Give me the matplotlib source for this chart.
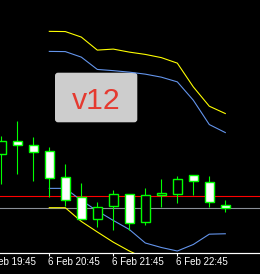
import matplotlib.pyplot as plt
from matplotlib.patches import Rectangle, FancyBboxPatch

# 15 min bars, index 0 = 6 Feb 20:00
opens = [120.7, 133.0, 129.0, 123.0, 97.0, 77.0, 55.3, 68.0, 80.0, 52.7, 79.3, 80.3, 99.0, 92.0, 69.0]
highs = [138.0, 153.0, 137.0, 127.0, 110.3, 91.3, 72.0, 84.0, 80.0, 86.0, 95.0, 98.0, 99.0, 98.0, 74.3]
lows = [90.0, 100.7, 93.3, 77.3, 68.3, 55.3, 47.3, 44.3, 44.0, 49.3, 67.0, 71.3, 79.7, 67.0, 62.3]
closes = [133.0, 129.7, 122.3, 96.3, 74.7, 55.3, 67.7, 80.0, 51.5, 79.7, 81.7, 95.0, 93.3, 72.7, 66.7]

# band lines, bars 3..14
band_x = [3, 4, 5, 6, 7, 8, 9, 10, 11, 12, 13, 14]
upper_outer = [242.7, 242.5, 237.0, 224.0, 225.0, 222.0, 219.7, 216.5, 211.0, 187.3, 168.0, 160.7]
upper_inner = [222.7, 222.5, 217.0, 204.7, 203.5, 202.0, 200.0, 197.0, 192.3, 174.0, 149.7, 141.7]
lower_inner = [86.0, 86.0, 74.0, 63.5, 54.0, 45.0, 31.5, 27.0, 23.5, 30.0, 40.3, 40.7]
lower_outer = [66.7, 66.7, 53.0, 42.5, 32.3, 23.5, 16.0, 11.0, 7.0, 12.0, 20.0, 21.0]

red_level = 78.7
gray_level = 66.7

tick_pos = [-1, 3, 7, 11]
tick_labels = ["6 Feb 19:45", "6 Feb 20:45", "6 Feb 21:45", "6 Feb 22:45"]

W, H = 260, 274
px = 0.72  # one pixel in points at dpi 100

fig = plt.figure(figsize=(W / 100, H / 100), dpi=100, facecolor="black")

# background layer for the label box (pixel coordinates)
bg = fig.add_axes([0, 0, 1, 1], zorder=0)
bg.set_xlim(0, W)
bg.set_ylim(H, 0)
bg.axis("off")
bg.add_patch(FancyBboxPatch((55, 72.7), 82.3, 49.6, boxstyle="round,pad=0,rounding_size=3",
                            facecolor="#cdcdcd", edgecolor="none"))
bg.text(96, 109, "v12", color="#e53a30", fontsize=21.8, family="Liberation Sans",
        ha="center", va="baseline")

# main chart
ax = fig.add_axes([0, 21.5 / H, 1, 252.5 / H], zorder=1)
ax.set_facecolor("none")

ax.axhline(red_level, color="#ff0000", lw=1.1 * px, zorder=1)
ax.axhline(gray_level, color="#8a8f98", lw=1.1 * px, zorder=1)

ax.plot(band_x, upper_outer, color="#ffff00", lw=1.1 * px, zorder=2)
ax.plot(band_x, lower_outer, color="#ffff00", lw=1.1 * px, zorder=2)
ax.plot(band_x, upper_inner, color="#6495ed", lw=1.1 * px, zorder=2)
ax.plot(band_x, lower_inner, color="#6495ed", lw=1.1 * px, zorder=2)

for i in range(len(opens)):
    o, h, l, c = opens[i], highs[i], lows[i], closes[i]
    ax.vlines(i, l, h, color="#00ff00", lw=1.1 * px, zorder=3)
    fill = "white" if c < o else "black"
    ax.add_patch(Rectangle((i - 0.29, min(o, c)), 0.58, abs(c - o), facecolor=fill,
                           edgecolor="#00ff00", lw=1.4 * px, zorder=4))

for s in ["top", "left", "right"]:
    ax.spines[s].set_visible(False)
ax.spines["bottom"].set_color("white")
ax.spines["bottom"].set_linewidth(1.2 * px)
ax.set_yticks([])
ax.set_xticks(tick_pos)
ax.set_xticklabels([])
ax.tick_params(axis="x", colors="white", length=3 * px, width=1.1 * px, direction="out")
ax.set_xlim(-1.3 / 16, (W - 1.3) / 16)
ax.set_ylim(22, 274)

for p, lab in zip(tick_pos, tick_labels):
    ax.annotate(lab, xy=(p, 0), xycoords=("data", "axes fraction"), xytext=(-1.5, -4.5),
                textcoords="offset pixels", ha="left", va="top", color="white",
                fontsize=7, family="Liberation Sans", annotation_clip=False)

fig.savefig("out.png", dpi=100, facecolor="black")
